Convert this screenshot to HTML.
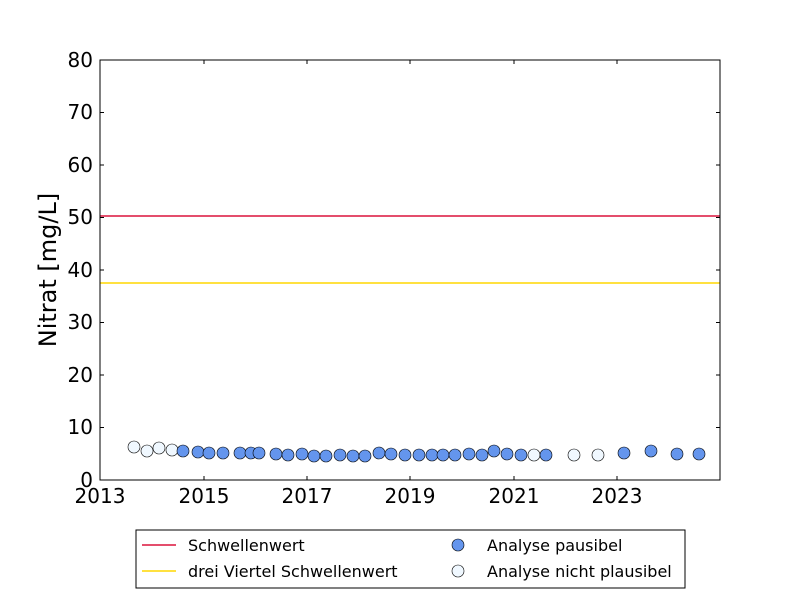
<!DOCTYPE html>
<html><head><meta charset="utf-8"><style>body{margin:0;background:#fff}</style></head><body>
<svg width="800" height="600" xmlns="http://www.w3.org/2000/svg" font-family="DejaVu Sans, Liberation Sans, sans-serif">
<rect width="800" height="600" fill="#fff"/>
<line x1="100" y1="216" x2="720" y2="216" stroke="#dc143c" stroke-width="1.5"/>
<line x1="100" y1="283" x2="720" y2="283" stroke="#ffd700" stroke-width="1.5"/>
<g stroke="#000" stroke-width="0.6">
<g fill="#f0f8ff">
<circle cx="134" cy="447" r="6"/><circle cx="147" cy="451" r="6"/><circle cx="159" cy="448" r="6"/><circle cx="172" cy="450" r="6"/>
<circle cx="534" cy="455" r="6"/><circle cx="574" cy="455" r="6"/><circle cx="598" cy="455" r="6"/>
</g>
<g fill="#6495ed">
<circle cx="183" cy="451" r="6"/><circle cx="198" cy="452" r="6"/><circle cx="209" cy="453" r="6"/><circle cx="223" cy="453" r="6"/><circle cx="240" cy="453" r="6"/><circle cx="251" cy="453" r="6"/><circle cx="259" cy="453" r="6"/><circle cx="276" cy="454" r="6"/><circle cx="288" cy="455" r="6"/><circle cx="302" cy="454" r="6"/><circle cx="314" cy="456" r="6"/><circle cx="326" cy="456" r="6"/><circle cx="340" cy="455" r="6"/><circle cx="353" cy="456" r="6"/><circle cx="365" cy="456" r="6"/><circle cx="379" cy="453" r="6"/><circle cx="391" cy="454" r="6"/><circle cx="405" cy="455" r="6"/><circle cx="419" cy="455" r="6"/><circle cx="432" cy="455" r="6"/><circle cx="443" cy="455" r="6"/><circle cx="455" cy="455" r="6"/><circle cx="469" cy="454" r="6"/><circle cx="482" cy="455" r="6"/><circle cx="494" cy="451" r="6"/><circle cx="507" cy="454" r="6"/><circle cx="521" cy="455" r="6"/><circle cx="546" cy="455" r="6"/><circle cx="624" cy="453" r="6"/><circle cx="651" cy="451" r="6"/><circle cx="677" cy="454" r="6"/><circle cx="699" cy="454" r="6"/>
</g>
</g>
<rect x="100" y="60" width="620" height="420" fill="none" stroke="#000" stroke-width="1"/>
<g stroke="#000" stroke-width="1">
<line x1="100" y1="427.5" x2="104" y2="427.5"/><line x1="716" y1="427.5" x2="720" y2="427.5"/>
<line x1="100" y1="375" x2="104" y2="375"/><line x1="716" y1="375" x2="720" y2="375"/>
<line x1="100" y1="322.5" x2="104" y2="322.5"/><line x1="716" y1="322.5" x2="720" y2="322.5"/>
<line x1="100" y1="270" x2="104" y2="270"/><line x1="716" y1="270" x2="720" y2="270"/>
<line x1="100" y1="217.5" x2="104" y2="217.5"/><line x1="716" y1="217.5" x2="720" y2="217.5"/>
<line x1="100" y1="165" x2="104" y2="165"/><line x1="716" y1="165" x2="720" y2="165"/>
<line x1="100" y1="112.5" x2="104" y2="112.5"/><line x1="716" y1="112.5" x2="720" y2="112.5"/>
<line x1="204" y1="480" x2="204" y2="476"/><line x1="204" y1="60" x2="204" y2="64"/>
<line x1="307" y1="480" x2="307" y2="476"/><line x1="307" y1="60" x2="307" y2="64"/>
<line x1="410" y1="480" x2="410" y2="476"/><line x1="410" y1="60" x2="410" y2="64"/>
<line x1="514" y1="480" x2="514" y2="476"/><line x1="514" y1="60" x2="514" y2="64"/>
<line x1="617" y1="480" x2="617" y2="476"/><line x1="617" y1="60" x2="617" y2="64"/>
</g>
<g font-size="20" text-anchor="end">
<text x="93" y="487">0</text><text x="93" y="434">10</text><text x="93" y="382">20</text><text x="93" y="329">30</text><text x="93" y="277">40</text><text x="93" y="224">50</text><text x="93" y="172">60</text><text x="93" y="119">70</text><text x="93" y="67">80</text>
</g>
<g font-size="20" text-anchor="middle">
<text x="100" y="503">2013</text><text x="204" y="503">2015</text><text x="307" y="503">2017</text><text x="410" y="503">2019</text><text x="514" y="503">2021</text><text x="617" y="503">2023</text>
</g>
<text transform="translate(56,270) rotate(-90)" font-size="24" text-anchor="middle">Nitrat [mg/L]</text>
<rect x="136" y="530" width="549" height="58" fill="#fff" stroke="#000" stroke-width="1"/>
<line x1="142" y1="545" x2="176" y2="545" stroke="#dc143c" stroke-width="1.5"/>
<line x1="142" y1="571" x2="176" y2="571" stroke="#ffd700" stroke-width="1.5"/>
<circle cx="458" cy="545" r="6" fill="#6495ed" stroke="#000" stroke-width="0.6"/>
<circle cx="458" cy="571" r="6" fill="#f0f8ff" stroke="#000" stroke-width="0.6"/>
<g font-size="16">
<text x="188" y="551">Schwellenwert</text>
<text x="188" y="577">drei Viertel Schwellenwert</text>
<text x="487" y="551">Analyse pausibel</text>
<text x="487" y="577">Analyse nicht plausibel</text>
</g>
</svg>
</body></html>
